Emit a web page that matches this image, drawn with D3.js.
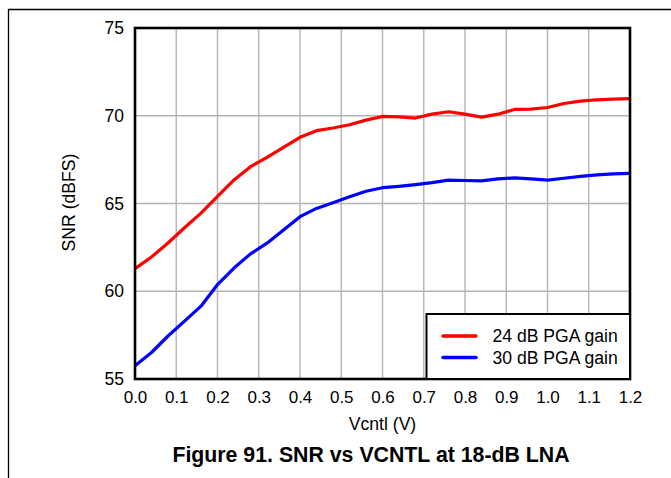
<!DOCTYPE html>
<html><head><meta charset="utf-8">
<script src="https://cdn.jsdelivr.net/npm/d3@7"></script>
<style>body{margin:0;background:#fff}svg{display:block}</style>
</head><body>
<script>
const vcntl = [0,0.04,0.08,0.12,0.16,0.20,0.24,0.28,0.32,0.36,0.40,0.44,0.48,0.52,0.56,0.60,0.64,0.68,0.72,0.76,0.80,0.84,0.88,0.92,0.96,1.00,1.04,1.08,1.12,1.16,1.20];
const snr24 = [61.29,61.95,62.75,63.62,64.45,65.40,66.34,67.10,67.63,68.20,68.77,69.15,69.30,69.49,69.75,69.96,69.94,69.87,70.09,70.23,70.09,69.92,70.09,70.36,70.38,70.47,70.70,70.83,70.91,70.95,70.98];
const snr30 = [55.75,56.51,57.45,58.30,59.15,60.38,61.32,62.13,62.74,63.49,64.25,64.72,65.04,65.38,65.70,65.90,65.98,66.08,66.19,66.33,66.31,66.29,66.40,66.46,66.40,66.33,66.44,66.55,66.63,66.69,66.72];
const seriesNames = ["24 dB PGA gain","30 dB PGA gain"];
const seriesColors = ["#ff0000","#0000ff"];
const xTicks = [0,0.1,0.2,0.3,0.4,0.5,0.6,0.7,0.8,0.9,1.0,1.1,1.2];
const yTicks = [55,60,65,70,75];
const xLabel = "Vcntl (V)";
const yLabel = "SNR (dBFS)";
const title = "Figure 91. SNR vs VCNTL at 18-dB LNA";

const W = 671, H = 478;
const FONT = "'Liberation Sans', Arial, sans-serif";
const m = {left:135, right:41, top:28, bottom:99};
const svg = d3.select("body").append("svg").attr("width",W).attr("height",H)
  .style("font-family",FONT);

// outer frame
svg.append("path").attr("d",`M8.5,${H} V9.5 H${W}`).attr("fill","none").attr("stroke","#000").attr("stroke-width",1.3);

const x = d3.scaleLinear().domain([0,1.2]).range([m.left, W-m.right]);
const y = d3.scaleLinear().domain([55,75]).range([H-m.bottom, m.top]);

// grid
const g = svg.append("g");
g.selectAll(".vg").data(xTicks.slice(1,-1)).join("line")
  .attr("x1",d=>x(d)).attr("x2",d=>x(d)).attr("y1",y(55)).attr("y2",y(75))
  .attr("stroke","#b4b4b4").attr("stroke-width",1.4);
g.selectAll(".hg").data(yTicks.slice(1,-1)).join("line")
  .attr("y1",d=>y(d)).attr("y2",d=>y(d)).attr("x1",x(0)).attr("x2",x(1.2))
  .attr("stroke","#b4b4b4").attr("stroke-width",1.4);

// lines
const line = d3.line().x((d,i)=>x(vcntl[i])).y(d=>y(d));
[snr24, snr30].forEach((s,k)=>{
  svg.append("path").datum(s).attr("d",line).attr("fill","none")
    .attr("stroke",seriesColors[k]).attr("stroke-width",3.2).attr("stroke-linejoin","round");
});

// axes (labels only)
const xAxis = d3.axisBottom(x).tickValues(xTicks).tickFormat(d3.format(".1f")).tickSize(0).tickPadding(12);
const xa = svg.append("g").attr("transform",`translate(0,${y(55)})`).call(xAxis);
xa.select(".domain").remove();
xa.selectAll("text").attr("font-size",17).attr("fill","#000").attr("font-family",FONT);
const yAxis = d3.axisLeft(y).tickValues(yTicks).tickFormat(d3.format("d")).tickSize(0).tickPadding(11);
const ya = svg.append("g").attr("transform",`translate(${x(0)},0)`).call(yAxis);
ya.select(".domain").remove();
ya.selectAll("text").attr("font-size",17.5).attr("fill","#000").attr("font-family",FONT);

// plot frame
svg.append("rect").attr("x",x(0)).attr("y",y(75)).attr("width",x(1.2)-x(0)).attr("height",y(55)-y(75))
  .attr("fill","none").attr("stroke","#000").attr("stroke-width",2.6);

// legend
const lg = svg.append("g");
lg.append("rect").attr("x",426.5).attr("y",314).attr("width",x(1.2)-426.5).attr("height",y(55)-314)
  .attr("fill","#fff").attr("stroke","#000").attr("stroke-width",2);
seriesNames.forEach((n,k)=>{
  const yy = 336 + k*21.6;
  lg.append("line").attr("x1",443).attr("x2",476).attr("y1",yy).attr("y2",yy)
    .attr("stroke",seriesColors[k]).attr("stroke-width",3.5).attr("stroke-linecap","round");
  lg.append("text").attr("x",492.5).attr("y",yy+6).attr("font-size",17.6).text(n);
});

// labels
svg.append("text").attr("x",382.5).attr("y",430).attr("text-anchor","middle").attr("font-size",17.6).text(xLabel);
svg.append("text").attr("transform",`translate(75,202.5) rotate(-90)`).attr("text-anchor","middle").attr("font-size",17.6).text(yLabel);
svg.append("text").attr("x",371).attr("y",462).attr("text-anchor","middle").attr("font-size",21.3).attr("font-weight","bold").text(title);
</script>
</body></html>
